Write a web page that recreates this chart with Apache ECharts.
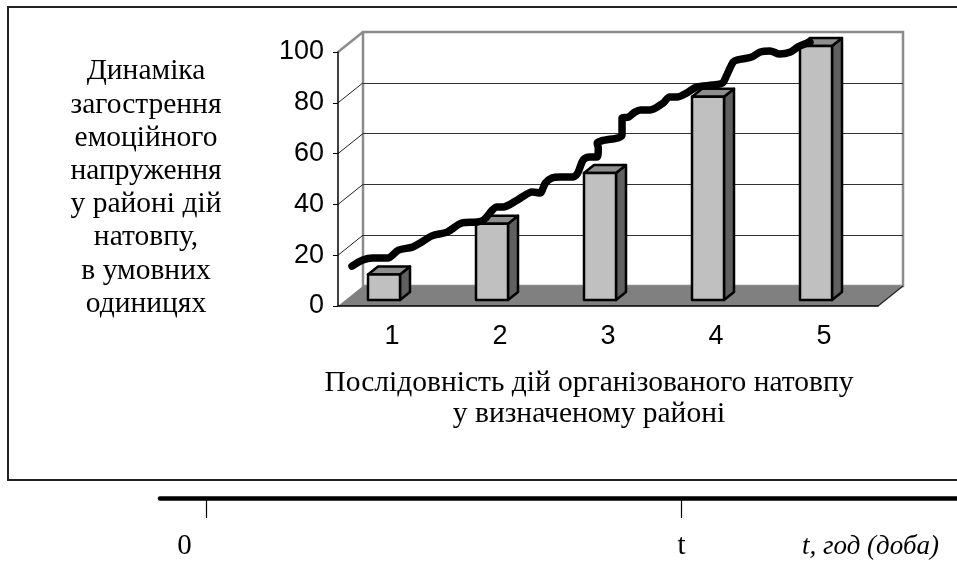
<!DOCTYPE html>
<html>
<head>
<meta charset="utf-8">
<script src="https://cdn.jsdelivr.net/npm/echarts@6/dist/echarts.min.js"></script>
<style>
  html, body { margin: 0; padding: 0; background: #fff; }
  #chart { width: 957px; height: 561px; }
</style>
</head>
<body>
<div id="chart"></div>
<script>
// data
const categories = ["1", "2", "3", "4", "5"];
const barValues = [10, 30, 50, 80, 100];
const yTicks = [0, 20, 40, 60, 80, 100];

// hand-drawn trend line, x in category units (1..5), y in chart units
const trendX = [0.63, 0.73, 0.82, 0.96, 1.06, 1.19, 1.26, 1.37, 1.51, 1.65, 1.79, 1.85,
  1.93, 1.97, 2.03, 2.16, 2.30, 2.37, 2.42, 2.48, 2.56, 2.67, 2.72, 2.77, 2.83, 2.90,
  2.91, 2.90, 2.94, 3.13, 3.13, 3.19, 3.25, 3.30, 3.39, 3.51, 3.57, 3.64, 3.73, 3.82,
  3.97, 4.06, 4.10, 4.16, 4.20, 4.33, 4.41, 4.50, 4.59, 4.69, 4.76, 4.87];
const trendY = [15.7, 18.1, 18.9, 18.9, 22.0, 23.2, 24.8, 27.6, 29.1, 32.7, 33.1, 33.9,
  37.8, 39.0, 39.0, 41.7, 44.9, 44.5, 48.4, 50.4, 50.8, 50.8, 52.4, 57.5, 58.7, 58.7,
  62.2, 64.2, 65.0, 67.3, 74.0, 74.4, 76.4, 77.2, 77.2, 79.9, 82.3, 82.3, 83.9, 86.2,
  87.0, 87.8, 90.9, 96.1, 96.9, 98.0, 100.0, 100.4, 99.2, 100.0, 102.0, 103.9];

const timeTicks = [0, 1];
const timeLabels = ["0", "t"];
const timeUnit = "t, год (доба)";

const yTitleLines = ["Динаміка", "загострення", "емоційного", "напруження",
  "у районі дій", "натовпу,", "в умовних", "одиницях"];
const xTitleLines = ["Послідовність дій організованого натовпу", "у визначеному районі"];

// 3d look
const DEPTH_X = 25, DEPTH_Y = -20;
const SERIF = "'Liberation Serif', 'Times New Roman', serif";
const SANS = "'Liberation Sans', Arial, sans-serif";

const chart = echarts.init(document.getElementById("chart"), null, { renderer: "canvas" });

function renderFloor(params, api) {
  const c = api.coord([0, 0]);
  const w = api.size([1, 0])[0];
  const x0 = c[0] - w / 2;
  const x1 = x0 + w * categories.length;
  const y0 = c[1];
  return {
    type: "group",
    children: [
      {
        type: "polygon",
        shape: { points: [[x0, y0], [x1, y0], [x1 + DEPTH_X, y0 + DEPTH_Y], [x0 + DEPTH_X, y0 + DEPTH_Y]] },
        style: { fill: "#808080" }
      },
      {
        type: "line",
        shape: { x1: x1, y1: y0, x2: x1 + DEPTH_X, y2: y0 + DEPTH_Y },
        style: { stroke: "#222", lineWidth: 1.2 }
      }
    ]
  };
}

function renderSideLine(params, api) {
  const v = api.value(1);
  const c = api.coord([0, v]);
  const x0 = c[0] - api.size([1, 0])[0] / 2;
  const isTop = v === yTicks[yTicks.length - 1];
  return {
    type: "line",
    shape: { x1: x0, y1: c[1], x2: x0 + DEPTH_X, y2: c[1] + DEPTH_Y },
    style: { stroke: isTop ? "#8c8c8c" : "#222", lineWidth: isTop ? 2.5 : 1 }
  };
}

function renderBar(params, api) {
  const idx = api.value(0);
  const top = api.coord([idx, api.value(1)]);
  const base = api.coord([idx, 0]);
  const l = top[0] - 24, r = top[0] + 8;
  const t = top[1] - 6, b = base[1] - 6;
  const dx = 10, dy = -8;
  const edge = { stroke: "#000", lineWidth: 2.5, lineJoin: "round" };
  return {
    type: "group",
    children: [
      {
        type: "polygon",
        shape: { points: [[r, t], [r + dx, t + dy], [r + dx, b + dy], [r, b]] },
        style: Object.assign({ fill: "#606060" }, edge)
      },
      {
        type: "polygon",
        shape: { points: [[l, t], [l + dx, t + dy], [r + dx, t + dy], [r, t]] },
        style: Object.assign({ fill: "#8e8e8e" }, edge)
      },
      {
        type: "rect",
        shape: { x: l, y: t, width: r - l, height: b - t },
        style: Object.assign({ fill: "#c0c0c0" }, edge)
      }
    ]
  };
}

const option = {
  animation: false,
  backgroundColor: "#fff",
  grid: [
    { left: 338, top: 52, width: 540, height: 254 },
    { left: 338 + DEPTH_X, top: 52 + DEPTH_Y, width: 540, height: 254, show: true,
      backgroundColor: "#fff", borderColor: "#8c8c8c", borderWidth: 2.5, z: 0 },
    { left: 160, right: -5, top: 460, bottom: 63 }
  ],
  xAxis: [
    {
      type: "category", gridIndex: 0, data: categories, z: 3,
      axisLine: { lineStyle: { color: "#000", width: 1.5 } },
      axisTick: { length: 10, lineStyle: { color: "#000", width: 1 } },
      axisLabel: { color: "#000", fontFamily: SANS, fontSize: 27, margin: 17 }
    },
    { type: "category", gridIndex: 1, data: categories, show: false },
    { type: "value", gridIndex: 0, min: 0.5, max: 5.5, show: false },
    {
      type: "value", gridIndex: 2, min: -0.098, max: 1.58, z: 3,
      axisLine: { lineStyle: { color: "#000", width: 4.5 } },
      axisTick: { customValues: timeTicks, length: 20, lineStyle: { color: "#000", width: 1.2 } },
      axisLabel: {
        customValues: timeTicks, color: "#000", fontFamily: SERIF, fontSize: 29, margin: 34,
        formatter: (v) => (v === timeTicks[0] ? "{zero|" : "{tt|") + timeLabels[timeTicks.indexOf(v)] + "}",
        rich: {
          zero: { fontFamily: SERIF, fontSize: 29, color: "#000", padding: [0, 44, 0, 0] },
          tt: { fontFamily: SERIF, fontSize: 29, color: "#000" }
        }
      },
      splitLine: { show: false }
    }
  ],
  yAxis: [
    {
      type: "value", gridIndex: 0, min: 0, max: 100, interval: 20, z: 3,
      axisLine: { show: true, lineStyle: { color: "#000", width: 1.5 } },
      axisTick: { show: true, length: 5, lineStyle: { color: "#000" } },
      axisLabel: { color: "#000", fontFamily: SANS, fontSize: 27, margin: 14 },
      splitLine: { show: false }
    },
    {
      type: "value", gridIndex: 1, min: 0, max: 100, interval: 20, z: 1,
      axisLine: { show: false }, axisTick: { show: false }, axisLabel: { show: false },
      splitLine: { show: true, showMinLine: false, showMaxLine: false,
        lineStyle: { color: "#333", width: 1 } }
    },
    { type: "value", gridIndex: 2, show: false }
  ],
  series: [
    {
      type: "custom", name: "floor", xAxisIndex: 0, yAxisIndex: 0, z: 2,
      data: [[0, 0]], renderItem: renderFloor, silent: true
    },
    {
      type: "custom", name: "sideLines", xAxisIndex: 0, yAxisIndex: 0, z: 2,
      data: yTicks.filter((v) => v > 0).map((v) => [0, v]), renderItem: renderSideLine, silent: true
    },
    {
      type: "custom", name: "bars", xAxisIndex: 0, yAxisIndex: 0, z: 4,
      data: barValues.map((v, i) => [i, v]), renderItem: renderBar,
      encode: { x: 0, y: 1 }
    },
    {
      type: "line", name: "trend", xAxisIndex: 2, yAxisIndex: 0, z: 5,
      data: trendX.map((x, i) => [x, trendY[i]]),
      showSymbol: false, symbol: "none", smooth: 0.3, clip: false,
      lineStyle: { color: "#000", width: 7.5, cap: "round", join: "round" }
    }
  ],
  graphic: [
    {
      type: "rect", z: -1, silent: true,
      shape: { x: 8, y: 7, width: 960, height: 473 },
      style: { fill: null, stroke: "#222", lineWidth: 2 }
    },
    {
      type: "text", silent: true, x: 146, y: 55,
      style: {
        text: yTitleLines.join("\n"), align: "center",
        font: "29.5px " + SERIF, lineHeight: 33.2, fill: "#000"
      }
    },
    {
      type: "text", silent: true, x: 589, y: 368,
      style: {
        text: xTitleLines.join("\n"), align: "center",
        font: "29.5px " + SERIF, lineHeight: 31, fill: "#000"
      }
    },
    {
      type: "text", silent: true, x: 802, y: 533,
      style: { text: timeUnit, font: "italic 27px " + SERIF, fill: "#000" }
    }
  ]
};

chart.setOption(option);
</script>
</body>
</html>
